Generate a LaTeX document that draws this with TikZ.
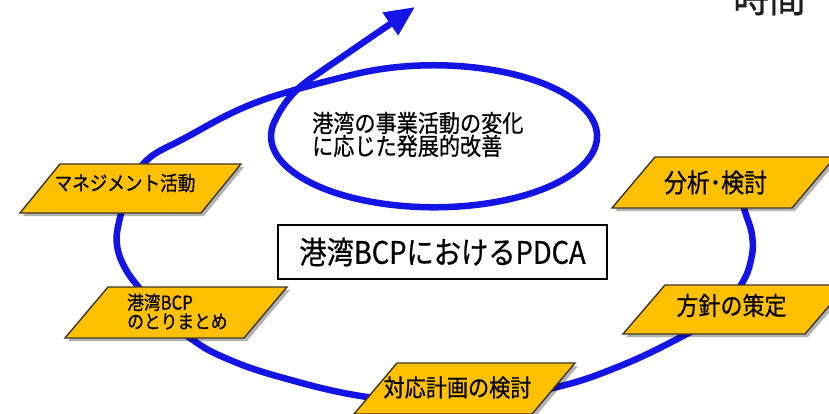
\documentclass[tikz,border=0pt]{standalone}
\usepackage{fontspec}
\setmainfont{Noto Sans CJK JP}[FakeStretch=0.88,FakeBold=0.6]
\usetikzlibrary{arrows.meta,shadows}
\definecolor{spiralblue}{RGB}{20,20,230}
\definecolor{boxgold}{RGB}{255,192,0}
\definecolor{boxedge}{RGB}{60,55,40}
\begin{document}
\begin{tikzpicture}[x=1pt,y=-1pt,
  spiral/.style={draw=spiralblue,line width=6.5pt},
  pbox/.style={fill=boxgold,draw=boxedge,line width=1.4pt,line join=miter,
    drop shadow={shadow xshift=3pt,shadow yshift=-3pt,opacity=0.3,fill=black}},
  ptext/.style={inner sep=0pt,text=black},
]
\useasboundingbox (0,0) rectangle (829,414);
\fill[white] (0,0) rectangle (829,414);

% spiral
\draw[spiral,-{Triangle[length=30pt,width=26pt]}]
  plot[smooth,tension=0.7] coordinates {(740,185) (744,208) (752,235) (751,260) (741,285) (718,315) (683,336) (620,366) (553,388) (460,404) (367,397) (280,377) (223,357) (190,338) (160,314) (140,289) (125,268) (117,245) (119,222) (128,195) (145,162) (185,138) (260,101) (360,73)}
  arc[start angle=-117,end angle=190,x radius=163,y radius=71]
  .. controls (282,105) and (292,92) .. (310,79) -- (415,7);

\node[ptext,anchor=west,align=left,font=\fontsize{24}{23}\selectfont] (loop) at (312,134.5)
  {港湾の事業活動の変化\\に応じた発展的改善};

% boxes
\filldraw[pbox] (60,164) -- (241,164) -- (201,213) -- (20,213) -- cycle;
\node[ptext,font=\fontsize{20}{22}\selectfont] (mgmt) at (125,183) {マネジメント活動};

\filldraw[pbox] (108,287) -- (287,287) -- (244,338) -- (65,338) -- cycle;
\node[ptext,anchor=west,align=left,font=\fontsize{19}{19}\selectfont] (bcp) at (127,311.5) {港湾BCP\\のとりまとめ};

\filldraw[pbox] (655,157) -- (835,157) -- (792,208) -- (612,208) -- cycle;
\node[ptext,font=\fontsize{26}{28}\selectfont] (anal) at (715.5,182.5) {分析･検討};

\filldraw[pbox] (665,285) -- (847,285) -- (805,334) -- (623,334) -- cycle;
\node[ptext,font=\fontsize{25}{27}\selectfont] (policy) at (731.5,305.5) {方針の策定};

\filldraw[pbox] (397,363) -- (575,363) -- (532,414) -- (354,414) -- cycle;
\node[ptext,font=\fontsize{24}{26}\selectfont] (plan) at (457.5,387.5) {対応計画の検討};

% center title
\node[draw=black,fill=white,line width=1.5pt,minimum width=329pt,minimum height=54pt,inner sep=0pt,
  font=\fontsize{31}{33}\selectfont] (title) at (442.5,252) {港湾BCPにおけるPDCA};

% time label
\node[ptext,anchor=base west,text={rgb,255:red,30;green,30;blue,30},font=\fontsize{41}{43}\selectfont] (time) at (733,12) {時間};
\end{tikzpicture}
\end{document}
